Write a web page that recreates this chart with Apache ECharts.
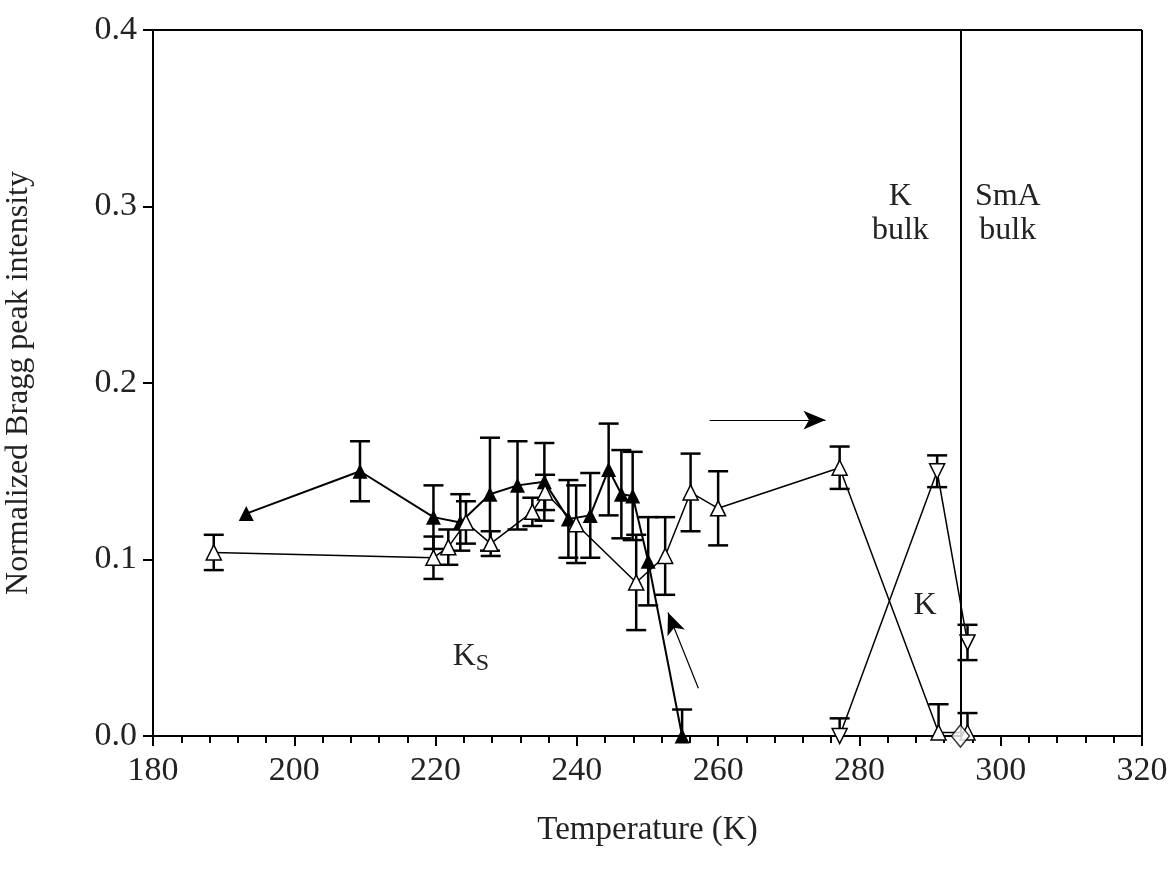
<!DOCTYPE html>
<html>
<head>
<meta charset="utf-8">
<title>Bragg peak intensity</title>
<script src="https://cdn.jsdelivr.net/npm/echarts@6/dist/echarts.min.js"></script>
</head>
<body style="margin:0;background:#fff">
<div id="main" style="width:1176px;height:878px;"></div>
<script>
// filled triangles: [T, value, error]
var filledT = [193.2, 209.3, 219.7, 223.5, 227.7, 231.6, 235.4, 238.8, 241.9, 244.5, 246.3, 247.9, 250.1, 254.9];
var filledV = [0.126, 0.150, 0.124, 0.121, 0.137, 0.142, 0.144, 0.123, 0.125, 0.151, 0.137, 0.136, 0.099, 0.0];
var filledE = [0, 0.017, 0.018, 0.016, 0.032, 0.025, 0.022, 0.022, 0.024, 0.026, 0.025, 0.025, 0.025, 0.015];
// open up-triangles
var openT = [188.6, 219.7, 221.8, 224.3, 227.8, 233.7, 235.5, 239.9, 248.4, 252.5, 256.1, 260.0, 277.2, 291.2, 295.3];
var openV = [0.104, 0.101, 0.107, 0.121, 0.109, 0.127, 0.138, 0.120, 0.087, 0.102, 0.138, 0.129, 0.152, 0.002, 0.002];
var openE = [0.010, 0.012, 0.010, 0.012, 0.007, 0.008, 0.010, 0.022, 0.027, 0.022, 0.022, 0.021, 0.012, 0.016, 0.011];
// open down-triangles
var downT = [277.2, 291.0, 295.3];
var downV = [0.0, 0.150, 0.053];
var downE = [0.01, 0.009, 0.010];
// open diamond
var diaT = [294.3];
var diaV = [0.0];
var bulkT = 294.3;

function pts(t, v) { return t.map(function (x, i) { return [x, v[i]]; }); }
function errs(t, v, e) { return t.map(function (x, i) { return [x, v[i], e[i]]; }); }

function errSeries(data) {
  return {
    type: 'custom', silent: true, z: 1,
    renderItem: function (params, api) {
      var x = api.value(0), y = api.value(1), e = api.value(2);
      if (!e) return null;
      var top = api.coord([x, y + e]), bot = api.coord([x, Math.max(0, y - e)]);
      var w = 10, st = { stroke: '#000', lineWidth: 2.5 };
      var ch = [{ type: 'line', shape: { x1: top[0], y1: top[1], x2: bot[0], y2: bot[1] }, style: st },
                { type: 'line', shape: { x1: top[0] - w, y1: top[1], x2: top[0] + w, y2: top[1] }, style: st }];
      if (y - e > 0) ch.push({ type: 'line', shape: { x1: bot[0] - w, y1: bot[1], x2: bot[0] + w, y2: bot[1] }, style: st });
      return { type: 'group', children: ch };
    },
    data: data
  };
}

var font = 'Liberation Serif';
var chart = echarts.init(document.getElementById('main'));
chart.setOption({
  animation: false,
  textStyle: { fontFamily: font },
  grid: { left: 153, right: 34, top: 30, bottom: 142, containLabel: false, outerBoundsMode: 'none' },
  xAxis: {
    type: 'value', min: 180, max: 320, interval: 20,
    name: 'Temperature (K)', nameLocation: 'middle', nameGap: 78,
    nameTextStyle: { fontSize: 33, color: '#222', fontFamily: font },
    axisLine: { onZero: false, lineStyle: { color: '#000', width: 2 } },
    axisTick: { inside: false, length: 10, lineStyle: { color: '#000', width: 2 } },
    minorTick: { show: true, splitNumber: 5, length: 7, lineStyle: { color: '#000', width: 2 } },
    axisLabel: { fontSize: 34, color: '#222', margin: 18, fontFamily: font },
    splitLine: { show: false }
  },
  yAxis: {
    type: 'value', min: 0, max: 0.4, interval: 0.1,
    name: 'Normalized Bragg peak intensity', nameLocation: 'middle', nameGap: 118,
    nameTextStyle: { fontSize: 32, color: '#222', fontFamily: font },
    axisLine: { lineStyle: { color: '#000', width: 2 } },
    axisTick: { length: 10, lineStyle: { color: '#000', width: 2 } },
    axisLabel: { fontSize: 34, color: '#222', margin: 16, fontFamily: font, formatter: function (v) { return v.toFixed(1); } },
    splitLine: { show: false }
  },
  series: [
    errSeries(errs(filledT, filledV, filledE)),
    errSeries(errs(openT, openV, openE)),
    errSeries(errs(downT, downV, downE)),
    {
      type: 'line', data: pts(filledT, filledV), symbol: 'triangle', symbolSize: 15, z: 3,
      lineStyle: { color: '#000', width: 2 }, itemStyle: { color: '#000' }
    },
    {
      type: 'line', data: pts(openT, openV), symbol: 'triangle', symbolSize: 15, z: 4,
      lineStyle: { color: '#000', width: 1.5 }, itemStyle: { color: '#fff', borderColor: '#000', borderWidth: 1.5 }
    },
    {
      type: 'line', data: pts(downT, downV), symbol: 'triangle', symbolRotate: 180, symbolSize: 15, z: 4,
      lineStyle: { color: '#000', width: 1.5 }, itemStyle: { color: '#fff', borderColor: '#000', borderWidth: 1.5 }
    },
    {
      type: 'scatter', data: pts(diaT, diaV), symbol: 'diamond', symbolSize: [18, 22], z: 5,
      itemStyle: { color: '#fff', borderColor: '#000', borderWidth: 1.5 }
    },
    {
      type: 'line', data: [], silent: true,
      markLine: {
        silent: true, symbol: ['none', 'none'], label: { show: false },
        lineStyle: { color: '#000', width: 2, type: 'solid' },
        data: [
          [{ coord: [bulkT, 0] }, { coord: [bulkT, 0.4] }],
          [{ coord: [180, 0.4] }, { coord: [320, 0.4] }],
          [{ coord: [320, 0] }, { coord: [320, 0.4] }]
        ]
      }
    },
    {
      type: 'line', data: [], silent: true,
      markLine: {
        silent: true, symbol: ['none', 'arrow'], symbolSize: [14, 22], label: { show: false },
        lineStyle: { color: '#000', width: 1.2, type: 'solid' },
        data: [
          [{ coord: [258.8, 0.179] }, { coord: [275.2, 0.179] }],
          [{ coord: [257.2, 0.027] }, { coord: [252.9, 0.070] }]
        ]
      }
    },
    {
      type: 'scatter', data: [], silent: true,
      markPoint: {
        silent: true, symbol: 'rect', symbolSize: 1, itemStyle: { color: 'transparent' },
        label: { show: true, color: '#222', fontSize: 32, fontFamily: font, lineHeight: 34, align: 'center' },
        data: [
          { coord: [285.8, 0.296], label: { formatter: 'K\nbulk' } },
          { coord: [301.0, 0.296], label: { formatter: 'SmA\nbulk' } },
          { coord: [289.3, 0.074], label: { formatter: 'K' } },
          { coord: [225.0, 0.045], label: { formatter: '{a|K}{b|S}', rich: { a: { fontSize: 32, fontFamily: font, color: '#222' }, b: { fontSize: 24, fontFamily: font, color: '#222', padding: [14, 0, 0, 0] } } } }
        ]
      }
    }
  ]
});
</script>
</body>
</html>
